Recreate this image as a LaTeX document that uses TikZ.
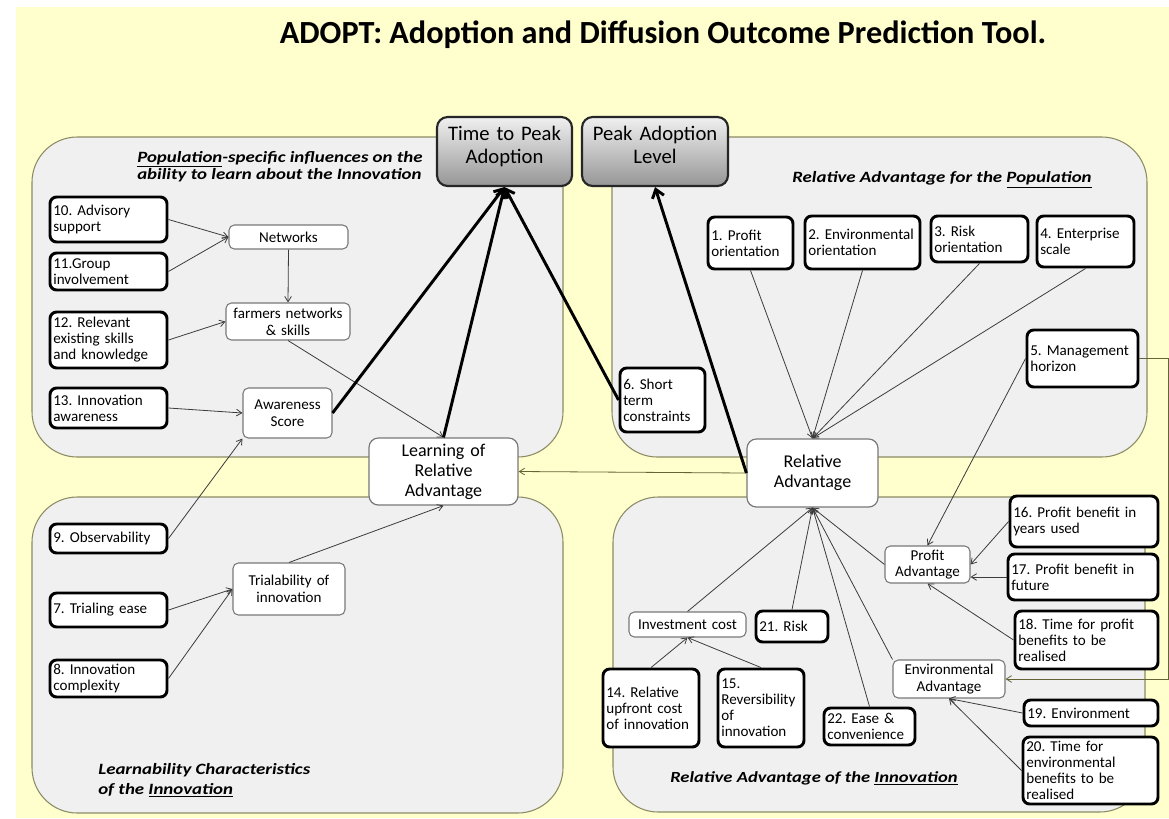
\documentclass[tikz,border=0pt]{standalone}
\usepackage{fontspec}
\setmainfont{Carlito}
\newfontfamily\ptfont{Carlito}[FakeStretch=1.2]
\usetikzlibrary{arrows.meta}
\frenchspacing
\definecolor{bgyellow}{RGB}{255,254,205}
\definecolor{panelfill}{RGB}{240,240,241}
\definecolor{panelline}{RGB}{140,140,100}
\definecolor{thinline}{RGB}{60,60,60}
\definecolor{boxline}{RGB}{120,120,120}
\definecolor{olivline}{RGB}{100,100,55}
\definecolor{tbtop}{RGB}{240,240,240}
\definecolor{tbbot}{RGB}{150,150,150}

\newcommand\mkbox[7]{%
 \pgfmathsetmacro\bw{(#5-#3)*0.75}%
 \pgfmathsetmacro\bh{(#6-#4)*0.75}%
 \pgfmathsetmacro\tw{(#5-#3)*0.75-5}%
 \pgfmathsetmacro\bx{(#3+#5)/2}%
 \pgfmathsetmacro\by{(#4+#6)/2}%
 \node[#1, minimum width=\bw pt, minimum height=\bh pt, text width=\tw pt] (#2) at (\bx,\by) {#7};}

\tikzset{
 inbox/.style={draw=black, line width=2.2pt, rounded corners=5pt, fill=white, align=left,
   inner xsep=2.5pt, inner ysep=1pt, font=\frenchspacing\fontsize{11.3}{12}\selectfont},
 midbox/.style={draw=boxline, line width=0.8pt, rounded corners=4pt, fill=white, align=center,
   inner xsep=2.5pt, inner ysep=1pt, font=\fontsize{11.3}{12.5}\selectfont},
 bigbox/.style={draw=boxline, line width=0.9pt, rounded corners=7pt, fill=white, align=center,
   inner xsep=2.5pt, font=\fontsize{13.5}{15}\selectfont},
 topbox/.style={draw=black!85, line width=1.6pt, rounded corners=8pt, top color=tbtop,
   bottom color=tbbot, align=center, inner xsep=2.5pt, font=\fontsize{15.5}{17.5}\selectfont},
 panel/.style={draw=panelline, line width=0.8pt, fill=panelfill, rounded corners=34pt},
 thinarrow/.style={draw=thinline, line width=0.6pt, -{Straight Barb[length=4pt,width=5pt]}},
 thickarrow/.style={draw=black, line width=2.2pt, -{Straight Barb[length=6pt,width=9pt]}},
 ptitle/.style={align=left, inner sep=0pt}
}

\begin{document}
\begin{tikzpicture}[x=0.75pt, y=-0.75pt]
\useasboundingbox (0,0) rectangle (1169,818);
\fill[white] (0,0) rectangle (1169,818);
\fill[bgyellow] (16,7) rectangle (1169,818);

% panels
\draw[panel] (32,137) rectangle (563,457);
\draw[panel] (612,137) rectangle (1147,457);
\draw[panel] (32,497) rectangle (563,813);
\draw[panel] (613,497) rectangle (1145,812);

% title
\node[font=\fontsize{24.2}{27}\selectfont\bfseries] (title) at (663,35)
  {ADOPT: Adoption and Diffusion Outcome Prediction Tool.};

% panel titles
\node[ptitle, anchor=north west, font=\ptfont\bfseries\itshape\fontsize{11.8}{10}\selectfont] (tlt) at (137,151)
  {\underline{Population}-specific influences on the\\ability to learn about the Innovation};
\node[ptitle, anchor=west, font=\ptfont\bfseries\itshape\fontsize{11.8}{10}\selectfont] (trt) at (792,180)
  {Relative Advantage for the \underline{Population}};
\node[ptitle, anchor=north west, font=\ptfont\bfseries\itshape\fontsize{11.8}{15}\selectfont] (blt) at (98,763)
  {Learnability Characteristics\\of the \underline{Innovation}};
\node[ptitle, anchor=west, font=\ptfont\bfseries\itshape\fontsize{11.6}{10}\selectfont] (brt) at (670,778)
  {Relative Advantage of the \underline{Innovation}};

% top outcome boxes
\mkbox{topbox}{ttp}{437}{117}{572}{186}{Time to Peak\\Adoption\\[-7.5pt]\mbox{}}
\mkbox{topbox}{pal}{582}{117}{728}{186}{Peak Adoption\\Level\\[-7.5pt]\mbox{}}

% top-left panel
\mkbox{inbox}{a10}{50}{197}{167}{242}{10. Advisory\\support}
\mkbox{inbox}{a11}{50}{253}{167}{290}{11.Group\\involvement}
\mkbox{inbox}{a12}{50}{312}{167}{368}{12. Relevant\\existing skills\\and knowledge}
\mkbox{inbox}{a13}{50}{388}{167}{428}{13. Innovation\\awareness}
\mkbox{midbox}{net}{229}{225}{348}{249}{Networks}
\mkbox{midbox}{farm}{226}{303}{350}{340}{farmers networks\\\& skills}
\mkbox{midbox}{aware}{243}{388}{332}{438}{Awareness\\Score}

% centre
\mkbox{bigbox}{learn}{369}{438}{518}{505}{Learning of\\Relative\\Advantage}
\mkbox{bigbox}{ra}{747}{439}{878}{507}{Relative\\Advantage}

% top-right panel
\mkbox{inbox}{b1}{708}{217}{793}{269}{1. Profit\\orientation}
\mkbox{inbox}{b2}{805}{216}{920}{269}{2. Environmental\\orientation}
\mkbox{inbox}{b3}{931}{216}{1028}{262}{3. Risk\\orientation}
\mkbox{inbox}{b4}{1037}{216}{1134}{267}{4. Enterprise\\scale}
\mkbox{inbox}{b5}{1027}{330}{1138}{387}{5. Management\\horizon}
\mkbox{inbox}{b6}{620}{368}{705}{432}{6. Short\\term\\constraints}

% bottom-left panel
\mkbox{inbox}{o9}{50}{524}{167}{553}{9. Observability}
\mkbox{inbox}{t7}{50}{593}{167}{627}{7. Trialing ease}
\mkbox{inbox}{c8}{50}{660}{167}{697}{8. Innovation\\complexity}
\mkbox{midbox}{trial}{233}{563}{345}{615}{Trialability of\\innovation}

% bottom-right panel
\mkbox{midbox}{inv}{629}{612}{746}{637}{Investment cost}
\mkbox{inbox}{r21}{756}{611}{828}{642}{21. Risk}
\mkbox{inbox}{u14}{603}{669}{699}{747}{14. Relative\\upfront cost\\of innovation}
\mkbox{inbox}{rev15}{718}{669}{804}{747}{15.\\Reversibility\\of\\innovation}
\mkbox{inbox}{e22}{824}{708}{915}{745}{22. Ease \&\\convenience}
\mkbox{midbox}{pa}{885}{546}{970}{583}{Profit\\Advantage}
\mkbox{midbox}{ea}{893}{660}{1005}{698}{Environmental\\Advantage}
\mkbox{inbox}{p16}{1010}{496}{1158}{547}{16. Profit benefit in\\years used}
\mkbox{inbox}{p17}{1008}{554}{1158}{600}{17. Profit benefit in\\future}
\mkbox{inbox}{p18}{1015}{611}{1158}{669}{18. Time for profit\\benefits to be\\realised}
\mkbox{inbox}{e19}{1024}{700}{1158}{726}{19. Environment}
\mkbox{inbox}{e20}{1023}{737}{1158}{804}{20. Time for\\environmental\\benefits to be\\realised}

% thin connectors, top-left
\draw[thinarrow] (a10.east) -- (net.west);
\draw[thinarrow] (a11.east) -- (net.west);
\draw[thinarrow] (net.south) -- (farm.north);
\draw[thinarrow] (a12.east) -- (farm.west);
\draw[thinarrow] (a13.east) -- (aware.west);
\draw[thinarrow] (o9.east) -- (aware.south west);
\draw[thinarrow] (farm.south) -- (learn.north);
% bottom-left
\draw[thinarrow] (t7.east) -- (trial.west);
\draw[thinarrow] (c8.east) -- (trial.west);
\draw[thinarrow] (trial.north) -- (learn.south);
% centre
\draw[thinarrow, draw=olivline] (ra.west) -- (learn.east);
% top-right
\draw[thinarrow] (b1.south) -- (ra.north);
\draw[thinarrow] (b2.south) -- (ra.north);
\draw[thinarrow] (b3.south) -- (ra.north);
\draw[thinarrow] (b4.south) -- (ra.north);
\draw[thinarrow] (b5.west) -- (pa.north);
\draw[thinarrow, draw=olivline] (b5.east) -- ++(29,0) |- (ea.east);
% bottom-right
\draw[thinarrow] (inv.north) -- (ra.south);
\draw[thinarrow] (r21.north) -- (ra.south);
\draw[thinarrow] (e22.north) -- (ra.south);
\draw[thinarrow] (ea.north west) -- (ra.south);
\draw[thinarrow] (pa.west) -- (ra.south);
\draw[thinarrow] (u14.north) -- (inv.south);
\draw[thinarrow] (rev15.north) -- (inv.south);
\draw[thinarrow] (p16.west) -- (pa.east);
\draw[thinarrow] (p17.west) -- (pa.east |- p17.west);
\draw[thinarrow] (p18.west) -- (pa.south);
\draw[thinarrow] (e19.west) -- (ea.south);
\draw[thinarrow] (e20.west) -- (ea.south);

% thick connectors
\draw[thickarrow] (aware.east) -- (ttp.south);
\draw[thickarrow] (learn.north) -- (ttp.south);
\draw[thickarrow] (b6.west) -- (ttp.south);
\draw[thickarrow] (ra.west) -- (pal.south);
\end{tikzpicture}
\end{document}
